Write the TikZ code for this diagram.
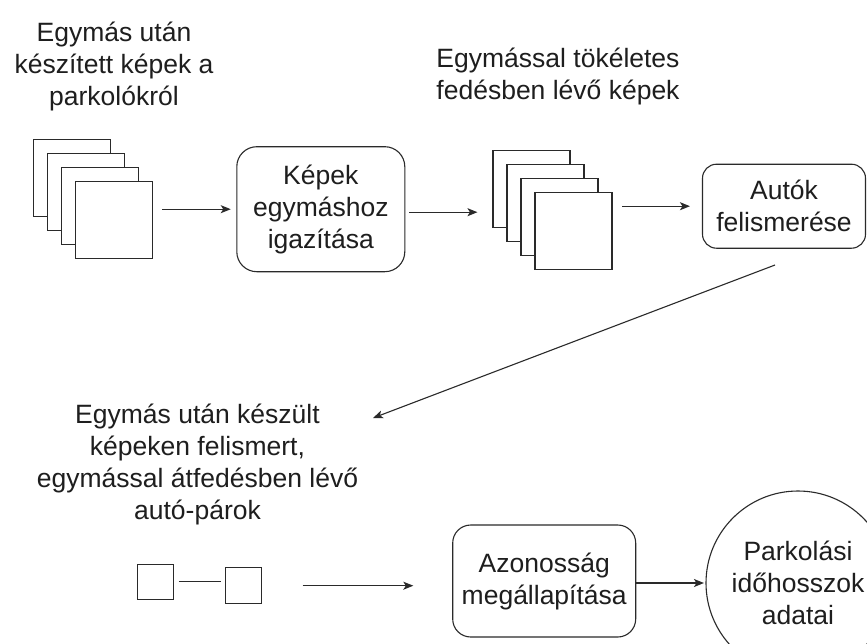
\documentclass[tikz,border=0pt]{standalone}
\usepackage{fontspec}
\setmainfont{Liberation Sans}
\usetikzlibrary{arrows.meta}
\definecolor{txt}{HTML}{1E1E1E}
\definecolor{ln}{HTML}{2A2A2A}
\begin{document}
\begin{tikzpicture}[x=1pt,y=-1pt,
  lbl/.style={align=center, inner sep=0pt, text=txt, font=\fontsize{26.5}{32}\selectfont},
  rbox/.style={lbl, draw=ln, line width=1.1pt, fill=white},
  photo/.style={draw=ln, fill=white, line width=1.1pt, minimum width=77pt, minimum height=77pt, inner sep=0pt},
  small/.style={draw=ln, fill=white, line width=1.1pt, minimum width=36pt, minimum height=35pt, inner sep=0pt},
  flow/.style={draw=ln, line width=1.1pt, -{Stealth[length=10pt,width=8pt,inset=2.5pt]}},
  link/.style={draw=ln, line width=1.1pt},
]
\useasboundingbox (0,0) rectangle (867,643);
\fill[white] (0,0) rectangle (867,643);

% labels
\node[lbl] (t1) at (114,66) {Egymás után\\készített képek a\\parkolókról};
\node[lbl] (t2) at (558,76) {Egymással tökéletes\\fedésben lévő képek};
\node[lbl] (t3) at (197.5,464) {Egymás után készült\\képeken felismert,\\egymással átfedésben lévő\\autó-párok};

% first stack of pictures
\node[photo] (s1a) at (72,178.3) {};
\node[photo] (s1b) at (86,192.3) {};
\node[photo] (s1c) at (100,206.3) {};
\node[photo] (s1d) at (114,220.3) {};

% align box
\node[rbox, rounded corners=20pt, minimum width=168pt, minimum height=125pt] (b1) at (320.8,209.2) {Képek\\egymáshoz\\igazítása};

% second stack
\node[photo] (s2a) at (531.5,189) {};
\node[photo] (s2b) at (545.5,203) {};
\node[photo] (s2c) at (559.5,217) {};
\node[photo] (s2d) at (573.5,231) {};

% car detection box
\node[rbox, rounded corners=14pt, minimum width=163pt, minimum height=84pt] (b2) at (784,206.2) {Autók\\felismerése};

% pair of cars
\node[small] (q1) at (155.7,581.8) {};
\node[small, minimum width=35.6pt, minimum height=36pt] (q2) at (243.5,585.3) {};

% identity box
\node[rbox, rounded corners=18pt, minimum width=183pt, minimum height=112pt] (b3) at (544.2,581) {Azonosság\\megállapítása};

% result circle
\node[rbox, circle, minimum size=184pt] (c1) at (798,583) {Parkolási\\időhosszok\\adatai};

% connectors
\draw[flow, shorten <=9pt, shorten >=5.5pt] (b1.west -| s1d.east) -- (b1.west);
\draw[flow, shorten <=4pt, shorten >=15pt] ([yshift=-3pt]b1.east) -- ([yshift=-3pt]b1.east -| s2a.west);
\draw[flow, shorten <=9.5pt, shorten >=12pt] (b2.west -| s2d.east) -- (b2.west);
\coordinate (d1) at (775,265);
\coordinate (d2) at (373,418);
\draw[flow] (d1) -- (d2);
\draw[link, shorten <=4.5pt, shorten >=4.5pt] (q1.east) -- (q1.east -| q2.west);
\coordinate (pa) at (302.7,585.7);
\coordinate (pb) at (413.3,585.7);
\draw[flow] (pa) -- (pb);
\draw[flow, shorten >=1.5pt] (b3.east |- c1.west) -- (c1.west);
\end{tikzpicture}
\end{document}
